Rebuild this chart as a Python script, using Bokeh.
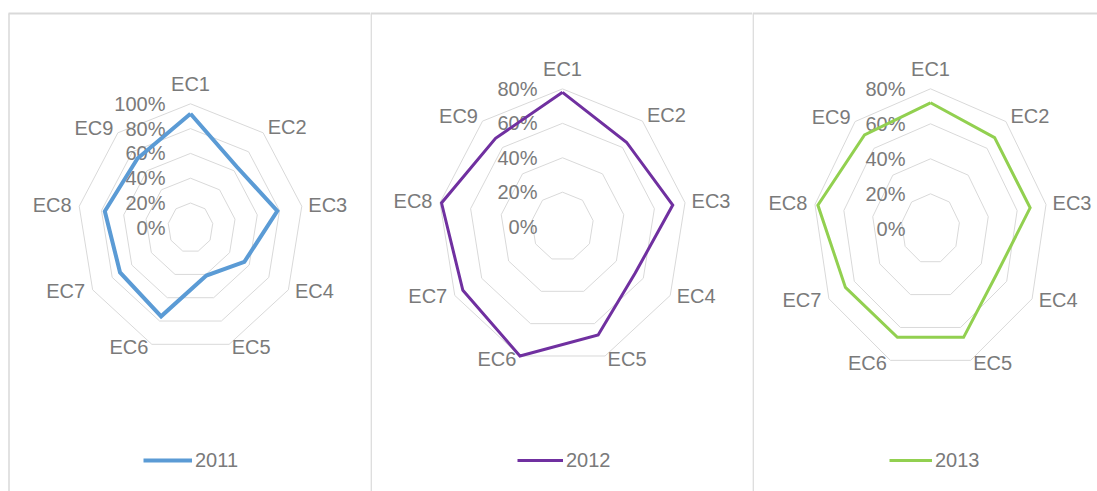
import numpy as np
from bokeh.plotting import figure
from bokeh.layouts import row
from bokeh.models import Legend, LegendItem, Range1d
from bokeh.core.properties import value
from bokeh.embed import file_html
from bokeh.resources import INLINE

# ---------------- data ----------------
categories = ["EC1", "EC2", "EC3", "EC4", "EC5", "EC6", "EC7", "EC8", "EC9"]
years = ["2011", "2012", "2013"]
values_2011 = [92, 64, 78, 55, 41, 76, 72, 77, 73]
values_2012 = [78, 64, 72, 54, 67, 80, 74, 79, 67]
values_2013 = [72, 68, 69, 52, 66, 66, 67, 78, 70]
ticks_2011 = [0, 20, 40, 60, 80, 100]
ticks_2012 = [0, 20, 40, 60, 80]
ticks_2013 = [0, 20, 40, 60, 80]
tick_labels_2011 = ["0%", "20%", "40%", "60%", "80%", "100%"]
tick_labels_2012 = ["0%", "20%", "40%", "60%", "80%"]
tick_labels_2013 = ["0%", "20%", "40%", "60%", "80%"]
colors = ["#5b9bd5", "#7030a0", "#92d050"]

# ---------------- layout / style ----------------
H = 491
FONT = "Liberation Sans"
TXT = "#7a7a7a"
GRID = "#d9d9d9"
# width, center x, center y (px in figure), radius x / y (px at max tick),
# line width, border x, legend x, legend glyph width
panels = [
    dict(w=370, cx=190, cy=227.3, rx=113.0, ry=124.0, lw=4, bx=8.5, lx=143, gw=49),
    dict(w=382, cx=192, cy=226.1, rx=124.4, ry=137.7, lw=3, bx=0.6, lx=147, gw=46),
    dict(w=345, cx=178, cy=228.3, rx=117.3, ry=140.0, lw=3, bx=0.6, lx=137, gw=43),
]
# label centre offsets (px) from outer ring vertex
lab_dx = [0, 24, 26, 26, 22, -23, -27, -27, -24]
lab_dy = [-20, -6, -1.5, 1, 3, 3, 1, -1.5, -5]

series = [values_2011, values_2012, values_2013]
ticks = [ticks_2011, ticks_2012, ticks_2013]
tick_labels = [tick_labels_2011, tick_labels_2012, tick_labels_2013]

n = len(categories)
theta = np.arange(n) * 2 * np.pi / n
sx, cy_ = np.sin(theta), np.cos(theta)

figs = []
for k, P in enumerate(panels):
    vmax = ticks[k][-1]
    kx = P["rx"] / vmax
    ky = P["ry"] / vmax
    xr = Range1d(-P["cx"] / kx, (P["w"] - P["cx"]) / kx)
    yr = Range1d(-(H - P["cy"]) / ky, P["cy"] / ky)
    p = figure(width=P["w"], height=H, x_range=xr, y_range=yr,
               x_axis_type=None, y_axis_type=None, toolbar_location=None,
               output_backend="svg", min_border=0, outline_line_color=None,
               background_fill_color="white", border_fill_color="white")
    p.xgrid.visible = False
    p.ygrid.visible = False

    # panel borders (left and top)
    xl = xr.start + P["bx"] / kx
    yt = yr.end - 13 / ky
    xl0 = xr.start + (8 if k == 0 else 0) / kx
    p.line([xl, xl], [yr.start, yt], line_color=GRID, line_width=1.5)
    p.line([xl0, xr.end], [yt, yt], line_color=GRID, line_width=2)

    # rings
    rx_list, ry_list = [], []
    for t in ticks[k][1:]:
        rx_list.append(list(t * sx) + [t * sx[0]])
        ry_list.append(list(t * cy_) + [t * cy_[0]])
    p.multi_line(rx_list, ry_list, line_color=GRID, line_width=1)

    # tick labels
    p.text(x=[0] * len(ticks[k]), y=ticks[k], text=tick_labels[k],
           x_offset=-25, text_align="right", text_baseline="middle",
           text_font=value(FONT), text_font_size="20px", text_color=TXT)

    # category labels
    p.text(x=list(vmax * sx), y=list(vmax * cy_), text=categories,
           x_offset=lab_dx, y_offset=lab_dy, text_align="center",
           text_baseline="middle", text_font=value(FONT),
           text_font_size="20px", text_color=TXT)

    # data
    v = np.array(series[k], dtype=float)
    xs = list(v * sx) + [v[0] * sx[0]]
    ys = list(v * cy_) + [v[0] * cy_[0]]
    r = p.line(xs, ys, line_color=colors[k], line_width=P["lw"], line_join="miter")

    legend = Legend(items=[LegendItem(label=years[k], renderers=[r])],
                    location=(P["lx"], 19), orientation="horizontal",
                    glyph_width=P["gw"], glyph_height=24, label_height=24,
                    label_standoff=3, padding=0, margin=0, spacing=0,
                    border_line_color=None, background_fill_alpha=0,
                    label_text_font=FONT, label_text_font_size="20px",
                    label_text_color=TXT)
    p.add_layout(legend)
    figs.append(p)

layout = row(*figs, spacing=0)
open("out.html", "w").write(file_html(layout, INLINE))
